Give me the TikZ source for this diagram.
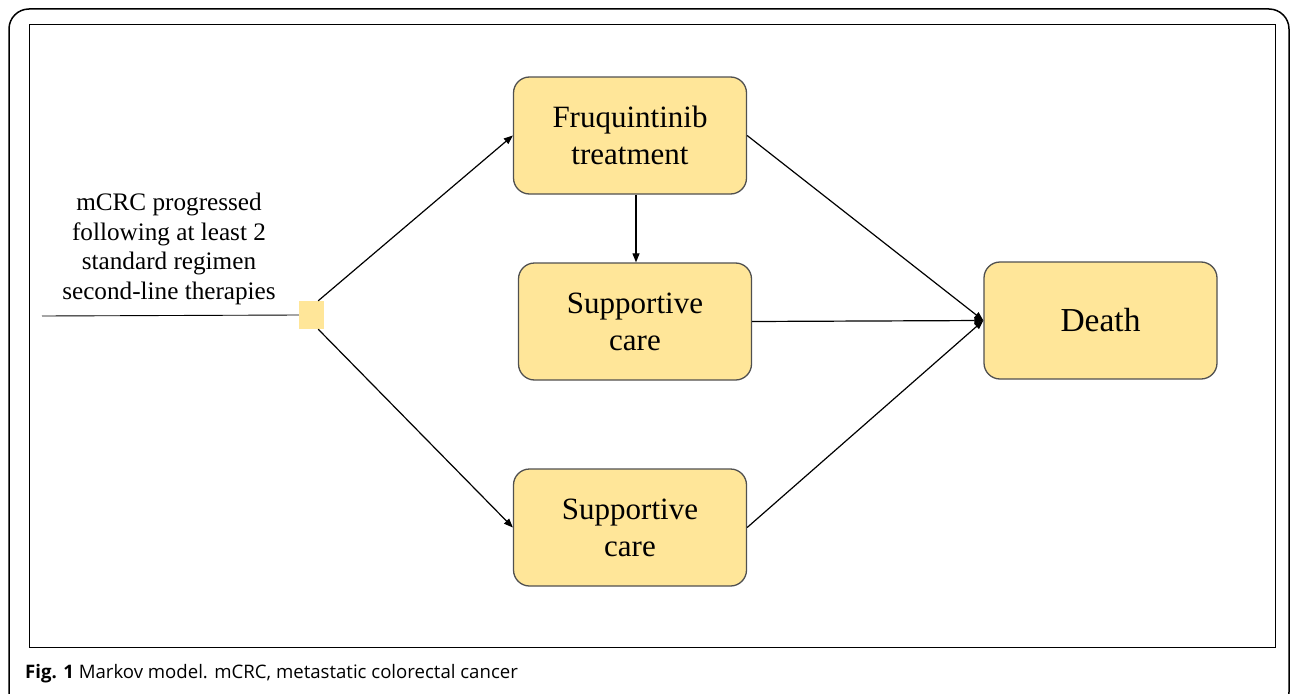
\documentclass[tikz,border=0pt]{standalone}
\usepackage{fontspec}
\setmainfont{Liberation Serif}
\newfontfamily\capfont{Open Sans}
\usetikzlibrary{arrows.meta}
\definecolor{boxfill}{HTML}{FFE699}
\definecolor{boxline}{HTML}{505050}
\tikzset{
  state/.style={draw=boxline, line width=1.3pt, fill=boxfill, rounded corners=16pt,
    minimum width=233pt, minimum height=117pt, align=center, inner sep=0pt,
    font=\fontsize{31}{37}\selectfont},
  conn/.style={line width=1.2pt, -{Triangle[length=9pt,width=7pt]}},
}
\begin{document}
\begin{tikzpicture}[x=1pt,y=-1pt]
\useasboundingbox (0,0) rectangle (1292,693);
\fill[white] (0,0) rectangle (1292,693);
\draw[line width=1.5pt, rounded corners=20pt] (9,9) rectangle (1289,712);
\draw[line width=1pt] (29,25) rectangle (1275,647);
\node[state] (fru) at (630,135.5) {Fruquintinib\\treatment};
\node[state] (sc1) at (635,321.5) {\raisebox{-3pt}{\parbox{200pt}{\centering Supportive\\care}}};
\node[state] (sc2) at (630,527.5) {\raisebox{-3pt}{\parbox{200pt}{\centering Supportive\\care}}};
\node[state, font=\fontsize{33.5}{38}\selectfont] (death) at (1100.5,320.5) {\raisebox{1.5pt}{Death}};
\node[fill=boxfill, minimum width=25pt, minimum height=28pt, inner sep=0pt] (sq) at (311.5,315) {};
\coordinate (start) at (42,316);
\node[align=center, font=\fontsize{25.2}{29.7}\selectfont] (lbl) at (169,249) {mCRC progressed\\following at least 2\\standard regimen\\second-line therapies};
\draw[line width=0.9pt] (start) -- (sq.west);
\draw[conn] (sq.north east) ++(-6,0) coordinate (a1) -- (fru.west);
\draw[conn] (sq.south east) ++(-6,0) coordinate (a2) -- (sc2.west);
\draw[conn] (fru.east) -- (death.west);
\draw[conn] (sc1.east) -- (death.west);
\draw[conn] (sc2.east) -- (death.west);
\draw[conn] (fru.south -| 636,0) -- (sc1.north -| 636,0);
\node[anchor=west, font=\capfont\fontsize{18.6}{22}\selectfont, inner sep=0pt] (cap) at (25,674) {\textbf{Fig. 1} Markov model. mCRC, metastatic colorectal cancer};
\end{tikzpicture}
\end{document}
